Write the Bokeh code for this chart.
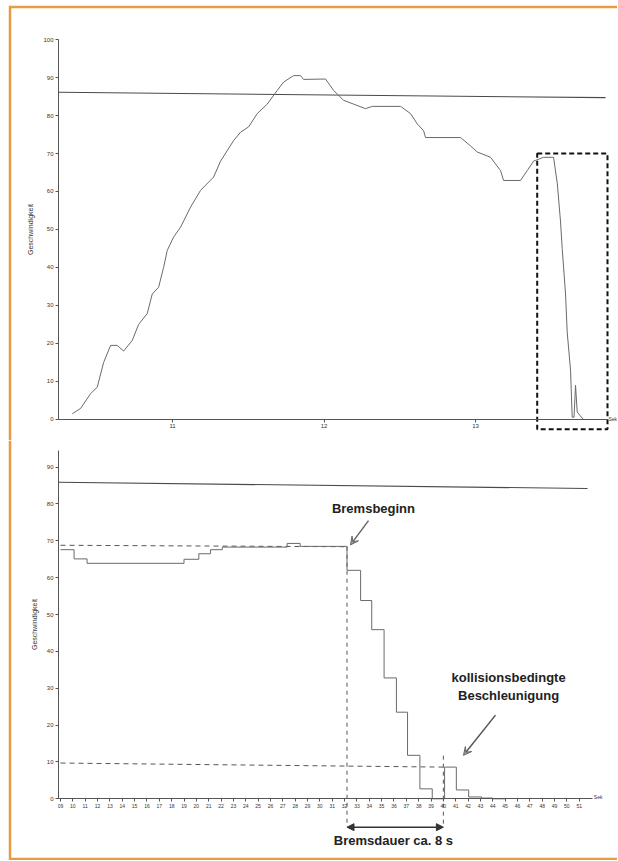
from bokeh.plotting import figure
from bokeh.models import Range1d, FixedTicker, Arrow, NormalHead, VeeHead
from bokeh.layouts import column
from bokeh.core.properties import value
from bokeh.embed import file_html
from bokeh.resources import INLINE

# ---------------- data: top chart (overall speed profile) ----------------
top_t = [10.338, 10.393, 10.459, 10.503, 10.545, 10.591, 10.635, 10.677, 10.734, 10.776,
         10.833, 10.866, 10.908, 10.941, 10.965, 11.007, 11.053, 11.119, 11.185, 11.271,
         11.317, 11.403, 11.449, 11.502, 11.559, 11.625, 11.691, 11.733, 11.799, 11.845,
         11.865, 12.010, 12.063, 12.129, 12.195, 12.274, 12.318, 12.505, 12.571, 12.615,
         12.657, 12.670, 12.901, 12.967, 13.011, 13.099, 13.165, 13.185, 13.297, 13.341,
         13.383, 13.449, 13.515, 13.540, 13.561, 13.572, 13.594, 13.605, 13.627, 13.638,
         13.650, 13.660, 13.671, 13.690, 13.713, 13.760]
top_v = [1.5, 2.9, 6.8, 8.5, 15.0, 19.5, 19.5, 18.0, 20.8, 25.0,
         27.9, 33.0, 34.8, 40.0, 44.5, 48.0, 50.6, 55.9, 60.3, 63.8,
         68.0, 73.4, 75.6, 77.0, 80.5, 83.0, 86.6, 88.8, 90.5, 90.5,
         89.5, 89.6, 86.6, 84.0, 83.0, 81.8, 82.4, 82.4, 80.5, 77.8,
         76.0, 74.2, 74.2, 72.0, 70.4, 69.0, 65.5, 62.9, 62.9, 65.5,
         68.0, 69.0, 69.0, 62.0, 52.0, 45.0, 33.0, 23.0, 13.0, 0.6,
         0.6, 9.0, 2.0, 1.0, 0.0, 0.0]
top_limit_t = [10.2475, 13.858]
top_limit_v = [86.1, 84.7]
top_yticks = [0, 10, 20, 30, 40, 50, 60, 70, 80, 90, 100]
top_xticks = [11, 12, 13]
# highlighted braking window (dashed box)
box_t = [13.407, 13.871]
box_v = [-2.6, 70.0]

# ---------------- data: bottom chart (braking detail, seconds) ----------------
bot_t = [9.0, 10.1, 11.15, 19.0, 20.2, 21.15, 22.1, 27.35, 28.4, 32.2,
         33.3, 34.2, 35.2, 36.2, 37.1, 38.1, 39.1, 40.1, 41.05, 42.05,
         43.1, 44.0, 45.0]
bot_v = [67.6, 65.1, 63.9, 65.0, 66.5, 67.6, 68.3, 69.3, 68.5, 62.0,
         53.8, 45.9, 32.8, 23.5, 11.8, 2.7, 0.0, 8.6, 2.4, 0.5,
         0.2, 0.0, 0.0]
bot_limit_t = [8.84, 51.67]
bot_limit_v = [85.9, 84.2]
brake_start_t = 32.2
brake_end_t = 40.0
brake_start_v = [68.8, 68.4]
collision_v = [9.7, 8.6]
bot_yticks = [0, 10, 20, 30, 40, 50, 60, 70, 80, 90]
bot_xticks = list(range(9, 52))
bot_xlabels = {t: "%02d" % t for t in bot_xticks}

ORANGE = "#E89B45"
LINE = "#6a6a6a"
AX = "#555555"
TXT = "#333333"
BOLD_FONT = "Liberation Sans"


def style_axes(p, xticks, yticks, xbounds, ybounds, label_size):
    for ax in (p.xaxis[0], p.yaxis[0]):
        ax.axis_line_color = AX
        ax.axis_line_width = 1
        ax.major_tick_line_color = AX
        ax.major_tick_out = 3
        ax.major_tick_in = 0
        ax.minor_tick_line_color = None
        ax.major_label_text_font = "Liberation Sans"
        ax.major_label_text_color = TXT
        ax.major_label_standoff = 2
    p.xaxis[0].ticker = FixedTicker(ticks=xticks)
    p.yaxis[0].ticker = FixedTicker(ticks=yticks)
    p.xaxis[0].fixed_location = 0
    p.yaxis[0].fixed_location = xbounds[0]
    p.xaxis[0].bounds = xbounds
    p.yaxis[0].bounds = ybounds
    p.xaxis[0].major_label_text_font_size = label_size
    p.yaxis[0].major_label_text_font_size = "6px"
    p.yaxis[0].axis_label = "Geschwindigkeit"
    p.yaxis[0].axis_label_text_font = "Liberation Sans"
    p.yaxis[0].axis_label_text_font_style = "normal"
    p.yaxis[0].axis_label_text_font_size = "7px"
    p.yaxis[0].axis_label_text_color = TXT
    p.yaxis[0].axis_label_standoff = 6
    p.xgrid.visible = False
    p.ygrid.visible = False
    p.outline_line_color = None
    p.border_fill_color = ORANGE
    p.background_fill_color = "white"


# ---------------- top figure ----------------
p1 = figure(frame_width=606, frame_height=432, output_backend="svg", toolbar_location=None,
            x_range=Range1d(9.937, 13.937), y_range=Range1d(-5.53, 108.16),
            min_border_left=3, min_border_right=0, min_border_top=3, min_border_bottom=0)
style_axes(p1, top_xticks, top_yticks, (10.2475, 13.871), (0, 100), "6px")
p1.line(top_limit_t, top_limit_v, line_color="#4a4a4a", line_width=1.1)
p1.line(top_t, top_v, line_color=LINE, line_width=1)
p1.quad(left=[box_t[0]], right=[box_t[1]], bottom=[box_v[0]], top=[box_v[1]],
        fill_color=None, line_color="#111111", line_width=2, line_dash="5 3")
p1.text(x=[13.871], y=[0], text=["Sek"], x_offset=1, text_font_size="5px",
        text_baseline="middle", text_color=TXT, text_font=value("Liberation Sans"))

# ---------------- bottom figure ----------------
p2 = figure(frame_width=606, frame_height=417, output_backend="svg", toolbar_location=None,
            x_range=Range1d(5.032, 54.10), y_range=Range1d(-15.93, 97.23),
            min_border_left=3, min_border_right=0, min_border_top=0, min_border_bottom=3)
style_axes(p2, bot_xticks, bot_yticks, (8.84, 52.1), (0, 94.5), "5px")
p2.xaxis[0].major_label_overrides = bot_xlabels
p2.line(bot_limit_t, bot_limit_v, line_color="#4a4a4a", line_width=1.1)
# reference dashed lines
p2.line([9.0, brake_start_t], brake_start_v, line_color="#555555", line_width=1, line_dash="5 4")
p2.line([9.0, brake_end_t], collision_v, line_color="#555555", line_width=1, line_dash="5 4")
p2.line([brake_start_t, brake_start_t], [brake_start_v[1], -7.7], line_color="#555555",
        line_width=1, line_dash="4 4")
p2.line([brake_end_t, brake_end_t], [11.7, -7.7], line_color="#555555",
        line_width=1, line_dash="4 4")
p2.step(bot_t, bot_v, mode="after", line_color=LINE, line_width=1)
p2.text(x=[52.1], y=[0], text=["Sek"], x_offset=1, y_offset=-2, text_font_size="5px",
        text_baseline="middle", text_color=TXT, text_font=value("Liberation Sans"))

# annotations
p2.add_layout(Arrow(end=VeeHead(size=8, line_color="#666666", fill_color="#999999"),
                    x_start=33.94, y_start=75.5, x_end=32.48, y_end=68.9,
                    line_color="#666666", line_width=1.5))
p2.add_layout(Arrow(end=VeeHead(size=8, line_color="#666666", fill_color="#999999"),
                    x_start=44.22, y_start=22.7, x_end=41.63, y_end=11.8,
                    line_color="#555555", line_width=1.5))
p2.add_layout(Arrow(start=NormalHead(size=7, line_color="#333333", fill_color="#333333"),
                    end=NormalHead(size=7, line_color="#333333", fill_color="#333333"),
                    x_start=brake_start_t, y_start=-7.7, x_end=brake_end_t, y_end=-7.7,
                    line_color="#333333", line_width=1.5))
p2.text(x=[34.34], y=[78.8], text=["Bremsbeginn"], text_align="center",
        text_baseline="middle", text_font=value(BOLD_FONT), text_font_style="bold",
        text_font_size="13px", text_color="#222222")
p2.text(x=[45.28, 45.28], y=[32.9, 28.1], text=["kollisionsbedingte", "Beschleunigung"],
        text_align="center", text_baseline="middle", text_font=value(BOLD_FONT),
        text_font_style="bold", text_font_size="13px", text_color="#222222")
p2.text(x=[35.96], y=[-11.3], text=["Bremsdauer ca. 8 s"], text_align="center",
        text_baseline="middle", text_font=value(BOLD_FONT), text_font_style="bold",
        text_font_size="13px", text_color="#222222")

layout = column(p1, p2, spacing=0, styles={"margin-left": "8px", "margin-top": "5px"})

open("out.html", "w").write(file_html(layout, INLINE))
